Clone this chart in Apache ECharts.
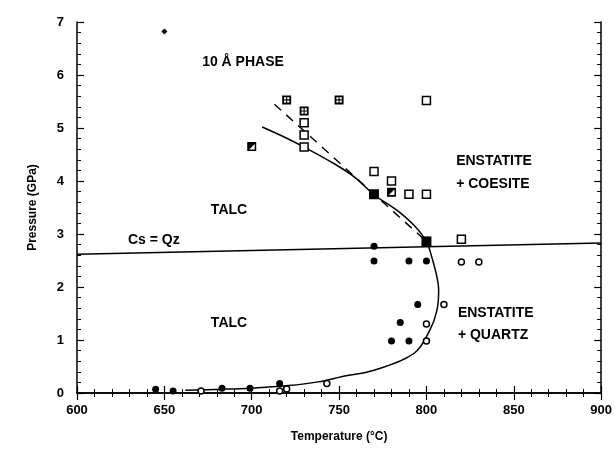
<!DOCTYPE html>
<html>
<head>
<meta charset="utf-8">
<script src="https://cdn.jsdelivr.net/npm/echarts@6/dist/echarts.min.js"></script>
<style>html,body{margin:0;padding:0;background:#fff}#c{width:615px;height:457px}</style>
</head>
<body>
<div id="c"></div>
<script>
// ---- data (Temperature °C, Pressure GPa) ----
const filledCircles = [[645,0.07],[655,0.04],[683,0.09],[699,0.09],[716,0.18],[770,2.77],[770,2.49],[790,2.49],[800,2.49],[795,1.67],[785,1.33],[780,0.98],[790,0.98]];
const openCircles = [[671,0.04],[716,0.04],[720,0.075],[743,0.18],[820,2.47],[830,2.47],[810,1.67],[800,1.30],[800,0.98]];
const openSquares = [[730,5.10],[730,4.87],[730,4.64],[800,5.52],[770,4.18],[780,4.00],[790,3.75],[800,3.75],[820,2.90]];
const filledSquares = [[770,3.75],[800,2.86]];
const crossedSquares = [[720,5.53],[730,5.32],[750,5.53]];
const halfSquares = [[700,4.65],[780,3.79]];
const diamonds = [[650,6.82]];
const talcCurve = [[706,5.02],[718,4.84],[730,4.64],[747,4.33],[759,4.07],[770,3.74],[783,3.45],[793,3.16],[800,2.86],[803,2.57],[806,2.19],[807,1.94],[806,1.56],[802,1.19],[793,0.75],[770,0.43],[752,0.31],[738,0.21],[721,0.14],[699,0.09],[683,0.07],[662,0.05]];
const dashedCurve = [[713,5.45],[800,2.86]];
const csQzLine = [[600,2.62],[900,2.83]];
const annotations = [
  {name:'10 Å PHASE', value:[695,6.25], align:'center'},
  {name:'TALC', value:[687,3.45], align:'center'},
  {name:'TALC', value:[687,1.32], align:'center'},
  {name:'Cs = Qz', value:[644,2.88], align:'center'},
  {name:'ENSTATITE', value:[817,4.37], align:'left'},
  {name:'+ COESITE', value:[817,3.95], align:'left'},
  {name:'ENSTATITE', value:[818,1.51], align:'left'},
  {name:'+ QUARTZ', value:[818,1.09], align:'left'}
];
const xMin = 600, xMax = 900, xStep = 50;
const yMin = 0, yMax = 7, yStep = 1;

const FONT = 'Liberation Sans, Arial, sans-serif';
const crossPath = 'path://M0 0L10 0L10 10L0 10Z M2 2L2 4.4L4.4 4.4L4.4 2Z M5.6 2L5.6 4.4L8 4.4L8 2Z M2 5.6L2 8L4.4 8L4.4 5.6Z M5.6 5.6L5.6 8L8 8L8 5.6Z';
const halfPath = 'path://M0 0L10 0L10 10L0 10Z M8.3 2.2L2.2 8.3L8.3 8.3Z';

function axisCommon(show) {
  return {
    axisLine: {show: true, lineStyle: {color: '#000', width: 1.5}},
    axisTick: {show: true, inside: true, length: 7, lineStyle: {color: '#000', width: 1.2}},
    minorTick: {show: true, splitNumber: 5, length: 4, lineStyle: {color: '#000', width: 1}},
    splitLine: {show: false},
    axisLabel: {show: show, color: '#000', fontFamily: FONT, fontWeight: 'bold', fontSize: 13}
  };
}

const chart = echarts.init(document.getElementById('c'), null, {renderer: 'canvas'});
chart.setOption({
  animation: false,
  backgroundColor: '#fff',
  grid: {left: 77, right: 9, top: 22, bottom: 64},
  xAxis: [
    Object.assign({type: 'value', min: xMin, max: xMax, interval: xStep, position: 'bottom',
      name: 'Temperature (°C)', nameLocation: 'middle', nameGap: 38,
      nameTextStyle: {color: '#000', fontFamily: FONT, fontWeight: 'bold', fontSize: 12}}, axisCommon(true),
      {axisLabel: {show: true, margin: 11, color: '#000', fontFamily: FONT, fontWeight: 'bold', fontSize: 13}}),
    Object.assign({type: 'value', min: xMin, max: xMax, interval: xStep, position: 'top'}, axisCommon(false))
  ],
  yAxis: [
    Object.assign({type: 'value', min: yMin, max: yMax, interval: yStep, position: 'left',
      name: 'Pressure (GPa)', nameLocation: 'middle', nameGap: 38,
      nameTextStyle: {color: '#000', fontFamily: FONT, fontWeight: 'bold', fontSize: 12}}, axisCommon(true),
      {axisLabel: {show: true, margin: 13, color: '#000', fontFamily: FONT, fontWeight: 'bold', fontSize: 13}}),
    Object.assign({type: 'value', min: yMin, max: yMax, interval: yStep, position: 'right'}, axisCommon(false))
  ],
  series: [
    {type: 'line', data: csQzLine, symbol: 'none', lineStyle: {color: '#000', width: 1.5}, z: 2},
    {type: 'line', data: talcCurve, symbol: 'none', smooth: 0.35, lineStyle: {color: '#000', width: 1.5}, z: 2},
    {type: 'line', data: dashedCurve, symbol: 'none', lineStyle: {color: '#000', width: 1.4, type: [9, 7]}, z: 2},
    {type: 'scatter', data: filledCircles, symbol: 'circle', symbolSize: 7, itemStyle: {color: '#000', opacity: 1}, z: 3},
    {type: 'scatter', data: openCircles, symbol: 'circle', symbolSize: 6, itemStyle: {color: '#fff', borderColor: '#000', borderWidth: 1.5, opacity: 1}, z: 3},
    {type: 'scatter', data: openSquares, symbol: 'rect', symbolSize: 8, itemStyle: {color: '#fff', borderColor: '#000', borderWidth: 1.5, opacity: 1}, z: 3},
    {type: 'scatter', data: filledSquares, symbol: 'rect', symbolSize: 10, itemStyle: {color: '#000', opacity: 1}, z: 3},
    {type: 'scatter', data: crossedSquares, symbol: crossPath, symbolSize: 9, itemStyle: {color: '#000', opacity: 1}, z: 3},
    {type: 'scatter', data: halfSquares, symbol: halfPath, symbolSize: 9, itemStyle: {color: '#000', opacity: 1}, z: 3},
    {type: 'scatter', data: diamonds, symbol: 'diamond', symbolSize: 6, itemStyle: {color: '#000', opacity: 1}, z: 3},
    {type: 'scatter', data: annotations.map(a => ({name: a.name, value: a.value, label: {align: a.align}})),
      symbolSize: 0, silent: true, z: 4, itemStyle: {opacity: 1},
      label: {show: true, position: 'inside', formatter: p => p.name, color: '#000', fontFamily: FONT, fontWeight: 'bold', fontSize: 14}}
  ]
});
</script>
</body>
</html>
